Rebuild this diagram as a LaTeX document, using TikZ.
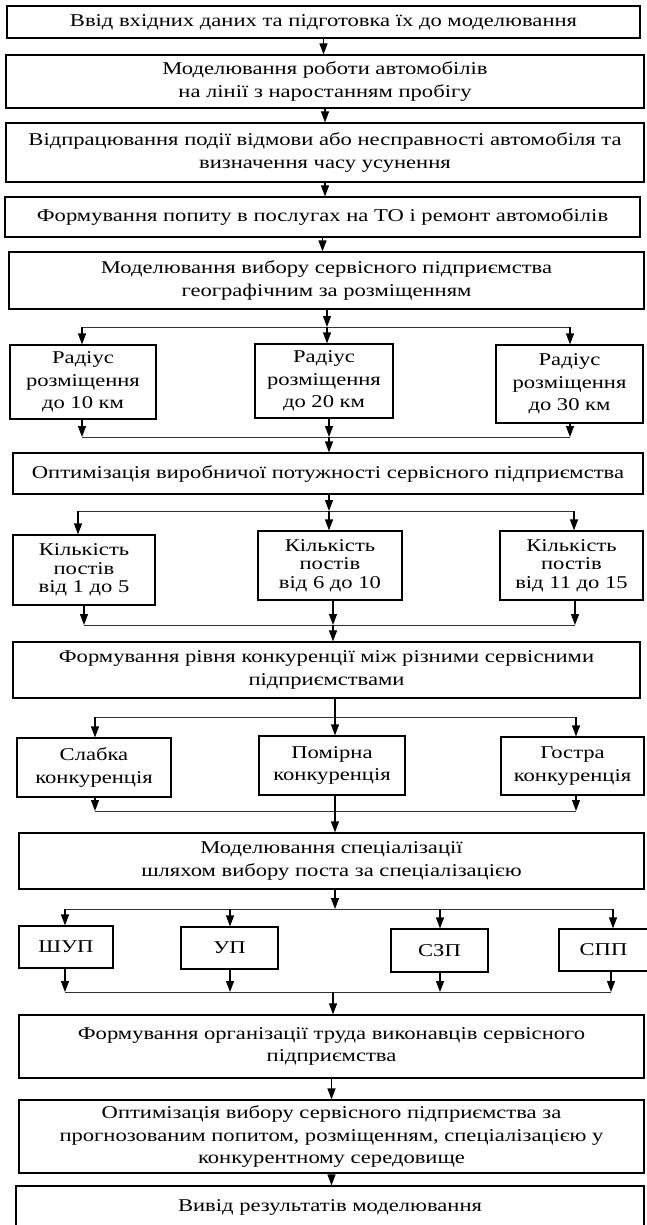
\documentclass[tikz,border=0pt]{standalone}
\usepackage{fontspec}
\setmainfont{Liberation Serif}[FakeStretch=1.255]
\usetikzlibrary{arrows.meta}

\begin{document}
\begin{tikzpicture}[x=1pt, y=-1pt,
    stage/.style={draw, line width=1.2pt, align=center, inner sep=0pt,
                  font=\fontsize{18}{22.5}\selectfont},
    tight/.style={font=\fontsize{18}{18.5}\selectfont},
    flow/.style={line width=1.2pt, -{Triangle[length=11pt, width=8pt]}},
    rail/.style={line width=1pt, black!80}]
  \useasboundingbox (0,0) rectangle (646,1225);

  % Main chain of stages
  \node[stage, minimum width=633pt, minimum height=32pt] (input) at (323.5,22)
        {Ввід вхідних даних та підготовка їх до моделювання};
  \node[stage, minimum width=638pt, minimum height=53pt] (fleet) at (325,81.5)
        {Моделювання роботи автомобілів\\на лінії з наростанням пробігу};
  \node[stage, minimum width=638pt, minimum height=59pt] (failure) at (325,152.5)
        {Відпрацювання події відмови або несправності автомобіля та\\визначення часу усунення};
  \node[stage, minimum width=635pt, minimum height=40pt] (demand) at (322.5,217)
        {Формування попиту в послугах на ТО і ремонт автомобілів};
  \node[stage, minimum width=635pt, minimum height=57pt] (geo) at (326.5,280.5)
        {Моделювання вибору сервісного підприємства\\географічним за розміщенням};

  \draw[flow] (input.south) -- (input.south |- fleet.north);
  \draw[flow] (fleet.south) -- (fleet.south |- failure.north);
  \draw[flow] (failure.south) -- (failure.south |- demand.north);
  \draw[flow] (demand.south) -- (demand.south |- geo.north);

  % Radius of location
  \node[stage, minimum width=146pt, minimum height=74pt] (r10) at (83,382)
        {Радіус\\розміщення\\до 10 км};
  \node[stage, minimum width=138pt, minimum height=74pt] (r20) at (324,381)
        {Радіус\\розміщення\\до 20 км};
  \node[stage, minimum width=147pt, minimum height=78pt] (r30) at (569.5,384)
        {Радіус\\розміщення\\до 30 км};

  \coordinate (fork1w) at (82,327);
  \coordinate (fork1) at (327,327);
  \coordinate (fork1e) at (570,327);
  \draw[flow] (fork1 |- geo.south) -- (fork1);
  \draw[rail] (fork1w) -- (fork1e);
  \draw[flow] (fork1w) -- (fork1w |- r10.north);
  \draw[flow] (fork1) -- (fork1 |- r20.north);
  \draw[flow] (fork1e) -- (fork1e |- r30.north);

  \node[stage, minimum width=630pt, minimum height=41pt] (capacity) at (328,473.5)
        {Оптимізація виробничої потужності сервісного підприємства};

  \coordinate (join1w) at (82,437);
  \coordinate (join1) at (329,437);
  \coordinate (join1e) at (570,437);
  \draw[flow] (join1w |- r10.south) -- (join1w);
  \draw[flow] (join1 |- r20.south) -- (join1);
  \draw[flow] (join1e |- r30.south) -- (join1e);
  \draw[rail] (join1w) -- (join1e);
  \draw[flow] (join1) -- (join1 |- capacity.north);

  % Number of posts
  \node[stage, tight, minimum width=142pt, minimum height=70pt] (p5) at (84,570)
        {Кількість\\постів\\від 1 до 5};
  \node[stage, tight, minimum width=144pt, minimum height=69pt] (p10) at (330,565.5)
        {Кількість\\постів\\від 6 до 10};
  \node[stage, tight, minimum width=143pt, minimum height=69pt] (p15) at (571.5,565.5)
        {Кількість\\постів\\від 11 до 15};

  \coordinate (fork2w) at (78,511);
  \coordinate (fork2) at (329,511);
  \coordinate (fork2e) at (574,511);
  \draw[flow] (fork2 |- capacity.south) -- (fork2);
  \draw[rail] (fork2w) -- (fork2e);
  \draw[flow] (fork2w) -- (fork2w |- p5.north);
  \draw[flow] (fork2) -- (fork2 |- p10.north);
  \draw[flow] (fork2e) -- (fork2e |- p15.north);

  \node[stage, minimum width=627pt, minimum height=56pt] (rivalry) at (326.5,670)
        {Формування рівня конкуренції між різними сервісними\\підприємствами};

  \coordinate (join2w) at (84,625);
  \coordinate (join2) at (333,625);
  \coordinate (join2e) at (575,625);
  \draw[flow] (join2w |- p5.south) -- (join2w);
  \draw[flow] (join2 |- p10.south) -- (join2);
  \draw[flow] (join2e |- p15.south) -- (join2e);
  \draw[rail] (join2w) -- (join2e);
  \draw[flow] (join2) -- (join2 |- rivalry.north);

  % Level of competition
  \node[stage, minimum width=154pt, minimum height=59pt] (weak) at (94,767.5)
        {Слабка\\конкуренція};
  \node[stage, minimum width=146pt, minimum height=59pt] (mild) at (332,765.5)
        {Помірна\\конкуренція};
  \node[stage, minimum width=143pt, minimum height=58pt] (sharp) at (572.5,766)
        {Гостра\\конкуренція};

  \coordinate (fork3w) at (95,717);
  \coordinate (fork3) at (335,717);
  \coordinate (fork3e) at (576,717);
  \draw[line width=1.2pt] (fork3 |- rivalry.south) -- (fork3);
  \draw[rail] (fork3w) -- (fork3e);
  \draw[flow] (fork3w) -- (fork3w |- weak.north);
  \draw[flow] (fork3) -- (fork3 |- mild.north);
  \draw[flow] (fork3e) -- (fork3e |- sharp.north);

  \node[stage, minimum width=625pt, minimum height=56pt] (special) at (331.5,861)
        {Моделювання спеціалізації\\шляхом вибору поста за спеціалізацією};

  \coordinate (join3w) at (95,811);
  \coordinate (join3e) at (576,811);
  \draw[flow] (join3w |- weak.south) -- (join3w);
  \draw[flow] (join3e |- sharp.south) -- (join3e);
  \draw[rail] (join3w) -- (join3e);
  \draw[flow] (fork3 |- mild.south) -- (fork3 |- special.north);

  % Posts by specialisation
  \node[stage, minimum width=94pt, minimum height=42pt] (shup) at (66,947) {ШУП};
  \node[stage, minimum width=97pt, minimum height=42pt] (up) at (229.5,948) {УП};
  \node[stage, minimum width=97pt, minimum height=43pt] (szp) at (439.5,950.5) {СЗП};
  \node[stage, minimum width=89pt, minimum height=42pt] (spp) at (603.5,950) {СПП};

  \coordinate (fork4w) at (65,909);
  \coordinate (fork4) at (335,909);
  \coordinate (fork4e) at (613,909);
  \draw[flow] (fork4 |- special.south) -- (fork4);
  \draw[rail] (fork4w) -- (fork4e);
  \draw[flow] (fork4w) -- (fork4w |- shup.north);
  \draw[flow] (230,909) -- (230,909 |- up.north);
  \draw[flow] (440,909) -- (440,909 |- szp.north);
  \draw[flow] (fork4e) -- (fork4e |- spp.north);

  \node[stage, minimum width=625pt, minimum height=63pt] (labour) at (331.5,1046.5)
        {Формування організації труда виконавців сервісного\\підприємства};
  \node[stage, minimum width=625pt, minimum height=73pt] (choice) at (331.5,1136.5)
        {Оптимізація вибору сервісного підприємства за\\прогнозованим попитом, розміщенням, спеціалізацією у\\конкурентному середовище};
  \node[stage, minimum width=628pt, minimum height=42pt] (output) at (330,1207)
        {Вивід результатів моделювання};

  \coordinate (join4w) at (65,992);
  \coordinate (join4) at (333,992);
  \coordinate (join4e) at (611,992);
  \draw[flow] (join4w |- shup.south) -- (join4w);
  \draw[flow] (230,992 |- up.south) -- (230,992);
  \draw[flow] (440,992 |- szp.south) -- (440,992);
  \draw[flow] (join4e |- spp.south) -- (join4e);
  \draw[rail] (join4w) -- (join4e);
  \draw[flow] (join4) -- (join4 |- labour.north);

  \draw[flow] (labour.south) -- (labour.south |- choice.north);
  \draw[flow] (choice.south) -- (choice.south |- output.north);
\end{tikzpicture}
\end{document}
